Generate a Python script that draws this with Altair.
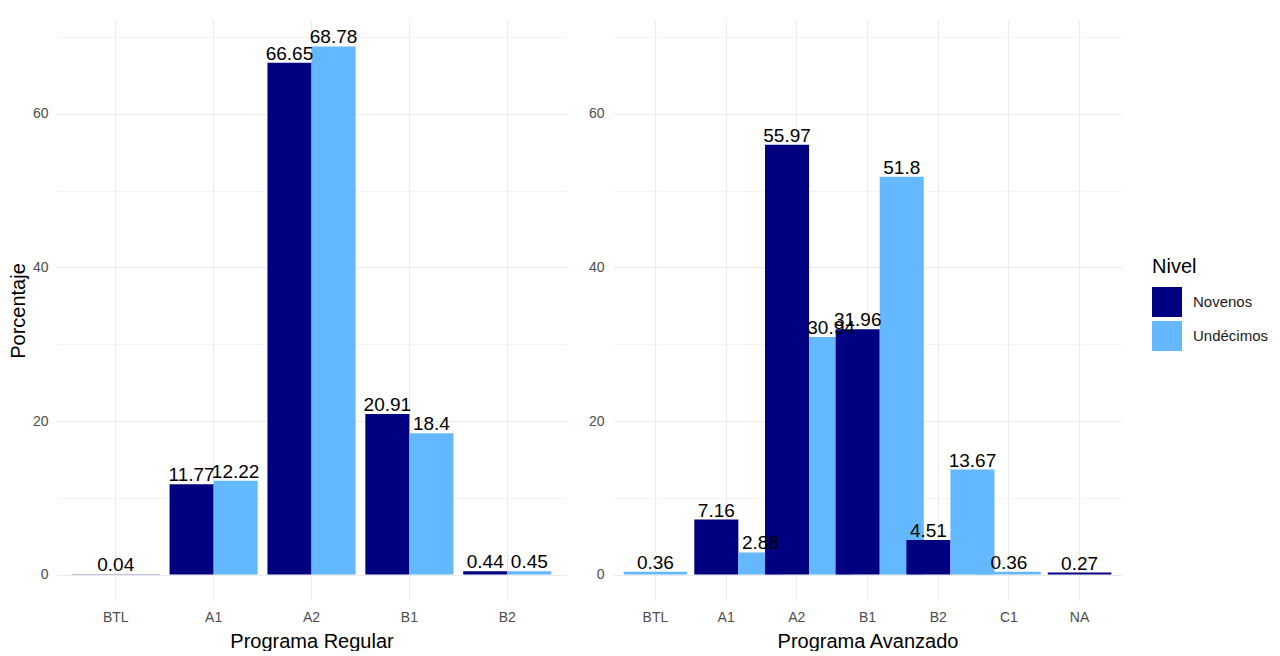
import altair as alt
import pandas as pd

niveles = ["Novenos", "Undécimos"]
colores = ["#000080", "#63B8FF"]

reg_cats = ["BTL", "A1", "A2", "B1", "B2"]
reg_nov = [0.04, 11.77, 66.65, 20.91, 0.44]
reg_und = [None, 12.22, 68.78, 18.4, 0.45]

av_cats = ["BTL", "A1", "A2", "B1", "B2", "C1", "NA"]
av_nov = [None, 7.16, 55.97, 31.96, 4.51, None, 0.27]
av_und = [0.36, 2.88, 30.94, 51.8, 13.67, 0.36, None]

y_ticks = [0, 10, 20, 30, 40, 50, 60, 70]
y_domain = [-3.44, 72.22]

FONT = "Liberation Sans"


def build_df(cats, nov, und):
    rows = []
    for c, a, b in zip(cats, nov, und):
        vals = [(niveles[0], a), (niveles[1], b)]
        vals = [(n, v) for n, v in vals if v is not None]
        for n, v in vals:
            rows.append({"cat": c, "nivel": n, "value": v, "single": len(vals) == 1})
    return pd.DataFrame(rows)


def panel(df, cats, xtitle, ytitle):
    grid_w = {"condition": {"test": "datum.value % 20 === 0", "value": 1.1}, "value": 0.6}
    y_axis_kw = dict(
        values=y_ticks,
        labelExpr="datum.value % 20 === 0 ? datum.label : ''",
        grid=True, gridColor="#ebebeb", gridWidth=grid_w,
        ticks=False, domain=False,
        labelColor="#4d4d4d", labelFontSize=14, labelPadding=9, labelFont=FONT,
        titleFontSize=20, titleFontWeight="normal", titleColor="black",
        titleFont=FONT, titlePadding=4,
    )
    if ytitle:
        y_axis = alt.Axis(title=ytitle, **y_axis_kw)
    else:
        y_axis = alt.Axis(title=None, **y_axis_kw)
    x = alt.X(
        "cat:N", sort=cats,
        scale=alt.Scale(domain=cats, paddingInner=0.1, paddingOuter=0.15),
        axis=alt.Axis(
            title=xtitle, grid=True, gridColor="#ebebeb", gridWidth=1.1,
            bandPosition=0.5,
            ticks=False, domain=False, labelAngle=0,
            labelColor="#4d4d4d", labelFontSize=14, labelPadding=9, labelFont=FONT,
            titleFontSize=20, titleFontWeight="normal", titleColor="black",
            titleFont=FONT, titlePadding=7,
        ),
    )
    y = alt.Y("value:Q", stack=None,
              scale=alt.Scale(domain=y_domain, nice=False, zero=False),
              axis=y_axis)
    color = alt.Color(
        "nivel:N",
        scale=alt.Scale(domain=niveles, range=colores),
        legend=alt.Legend(
            orient="none", legendX=1095, legendY=237,
            title="Nivel", titleFontSize=20, titleFontWeight="normal",
            titleColor="black", titleFont=FONT, titlePadding=10,
            labelFontSize=15, labelColor="#1a1a1a", labelFont=FONT, labelOffset=11,
            symbolType="square", symbolSize=900, symbolStrokeWidth=0,
            symbolOpacity=1, rowPadding=4,
        ),
    )
    xoff = alt.XOffset("nivel:N", scale=alt.Scale(domain=niveles, paddingInner=0, paddingOuter=0))
    base = alt.Chart(df)
    bars_d = base.mark_bar().encode(x=x, y=y, color=color, xOffset=xoff).transform_filter("!datum.single")
    bars_s = base.mark_bar().encode(x=x, y=y, color=color).transform_filter("datum.single")
    txt = dict(dy=-3, baseline="alphabetic", fontSize=19, font=FONT, color="black")
    text_d = base.mark_text(**txt).encode(x=x, y=y, text=alt.Text("value:Q"), xOffset=xoff).transform_filter("!datum.single")
    text_s = base.mark_text(**txt).encode(x=x, y=y, text=alt.Text("value:Q")).transform_filter("datum.single")
    return alt.layer(bars_d, bars_s, text_d, text_s).properties(width=509, height=581)


left = panel(build_df(reg_cats, reg_nov, reg_und), reg_cats, "Programa Regular", "Porcentaje")
right = panel(build_df(av_cats, av_nov, av_und), av_cats, "Programa Avanzado", None)

chart = alt.hconcat(left, right, spacing=22).properties(
    padding={"left": 0, "top": 12, "right": 0, "bottom": 0},
    background="white",
).configure(font=FONT).configure_view(strokeWidth=0, stroke="transparent")

chart.save("out.html", embed_options={"renderer": "svg", "actions": False})
